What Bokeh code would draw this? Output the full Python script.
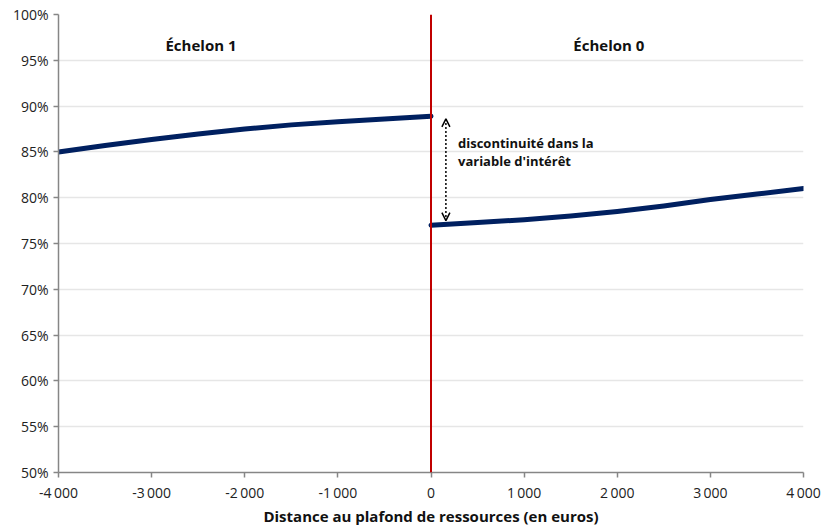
from bokeh.plotting import figure
from bokeh.models import Range1d, NumeralTickFormatter, FixedTicker, Arrow, OpenHead, Span, Label, CustomJSTickFormatter
from bokeh.embed import file_html
from bokeh.resources import INLINE

# data
x_left = [-4000, -3500, -3000, -2500, -2000, -1500, -1000, -500, 0]
y_left = [0.850, 0.857, 0.8635, 0.8695, 0.875, 0.8795, 0.883, 0.886, 0.889]
x_right = [0, 500, 1000, 1500, 2000, 2500, 3000, 3500, 4000]
y_right = [0.770, 0.773, 0.776, 0.780, 0.785, 0.791, 0.798, 0.804, 0.810]
x_ticks = [-4000, -3000, -2000, -1000, 0, 1000, 2000, 3000, 4000]
x_tick_labels = ["-4\u2009000", "-3\u2009000", "-2\u2009000", "-1\u2009000", "0",
                 "1\u2009000", "2\u2009000", "3\u2009000", "4\u2009000"]
y_ticks = [0.50, 0.55, 0.60, 0.65, 0.70, 0.75, 0.80, 0.85, 0.90, 0.95, 1.00]
cutoff = 0
gap_x = 160
gap_top = 0.889
gap_bottom = 0.770
labels = [("Échelon 1", -2470, 0.967), ("Échelon 0", 1910, 0.967)]
note_lines = ["discontinuité dans la", "variable d'intérêt"]

FONT = "Open Sans"
AX = "#868686"

p = figure(frame_width=745, frame_height=458, output_backend="svg", toolbar_location=None,
           x_range=Range1d(-4000, 4000), y_range=Range1d(0.5, 1.0))
p.min_border_left = 58
p.min_border_right = 21
p.min_border_top = 14
p.min_border_bottom = 53
p.outline_line_color = None
p.background_fill_color = "white"

p.xaxis.ticker = FixedTicker(ticks=x_ticks)
p.xaxis.formatter = CustomJSTickFormatter(args=dict(xt=x_ticks, xl=x_tick_labels), code="""
const i = xt.indexOf(tick);
return i >= 0 ? xl[i] : '';
""")
p.yaxis.ticker = FixedTicker(ticks=y_ticks)
p.yaxis.formatter = NumeralTickFormatter(format="0%")
for ax in (p.xaxis, p.yaxis):
    ax.axis_line_color = AX
    ax.axis_line_width = 1.5
    ax.major_tick_line_color = AX
    ax.major_tick_line_width = 1.5
    ax.major_tick_out = 5
    ax.major_tick_in = 0
    ax.minor_tick_line_color = None
    ax.major_label_text_font = FONT
    ax.major_label_text_font_size = "14px"
    ax.major_label_text_color = "#222222"
p.xaxis.major_label_standoff = 5
p.yaxis.major_label_standoff = 5
p.xaxis.axis_label = "Distance au plafond de ressources (en euros)"
p.xaxis.axis_label_text_font = FONT
p.xaxis.axis_label_text_font_style = "bold"
p.xaxis.axis_label_text_font_size = "15px"
p.xaxis.axis_label_text_color = "#111111"
p.xaxis.axis_label_standoff = 1

p.xgrid.grid_line_color = None
p.ygrid.grid_line_color = "#e6e6e6"
p.ygrid.grid_line_width = 1.5

p.line(x_left, y_left, line_color="#002060", line_width=5, line_cap="round", line_join="round")
p.line(x_right, y_right, line_color="#002060", line_width=5, line_cap="round", line_join="round")

p.add_layout(Span(location=cutoff, dimension="height", line_color="#c00000", line_width=2))

p.add_layout(Arrow(x_start=gap_x, y_start=gap_top - 0.003, x_end=gap_x, y_end=gap_bottom + 0.005,
                   line_color="black", line_width=1.5, line_dash="2 2",
                   start=OpenHead(size=8, line_color="black", line_width=1.5),
                   end=OpenHead(size=8, line_color="black", line_width=1.5)))

for txt, lx, ly in labels:
    p.add_layout(Label(x=lx, y=ly, text=txt, text_font=FONT, text_font_style="bold",
                       text_font_size="15px", text_align="center", text_baseline="middle",
                       text_color="#111111"))

for i, t in enumerate(note_lines):
    p.add_layout(Label(x=290, y=0.860 - i * 0.0195, text=t, text_font=FONT, text_font_style="bold",
                       text_font_size="13px", text_align="left", text_baseline="middle",
                       text_color="#111111"))

open("out.html", "w").write(file_html(p, INLINE))
